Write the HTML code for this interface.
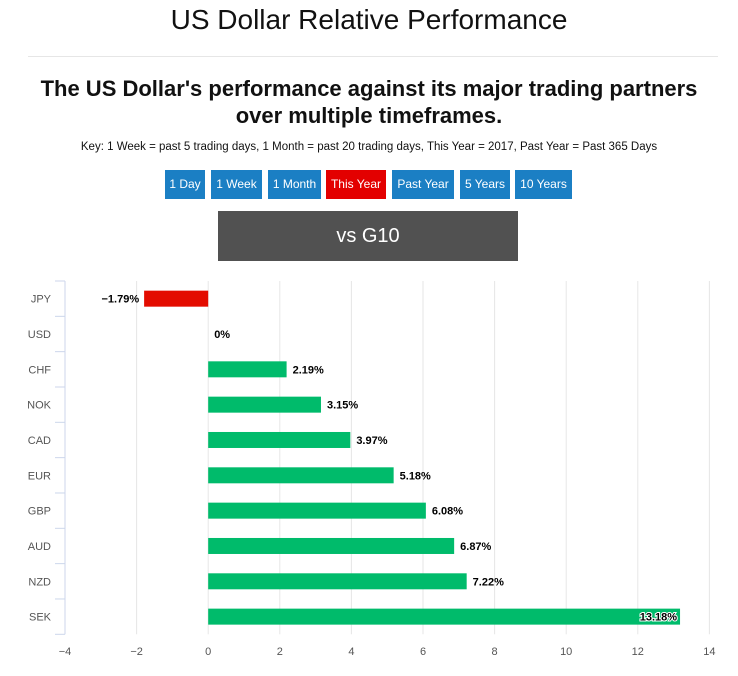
<!DOCTYPE html>
<html><head><meta charset="utf-8"><style>
body{margin:0;width:738px;height:676px;background:#fff;font-family:"Liberation Sans",sans-serif;position:relative;overflow:hidden}
.a{position:absolute}
.t{left:0;width:738px;text-align:center}
.btn{position:absolute;top:170px;height:29px;line-height:29px;color:#fff;font-size:12px;text-align:center;background:#1b7fc4}
</style></head><body>
<div class="a t" style="top:4px;font-size:28px;color:#111">US Dollar Relative Performance</div>
<div class="a" style="left:28px;width:690px;top:56px;border-top:1px solid #e6e6e6"></div>
<div class="a t" style="top:75px;font-size:22px;font-weight:bold;line-height:27px;color:#111">The US Dollar's performance against its major trading partners<br>over multiple timeframes.</div>
<div class="a t" style="top:141px;font-size:11.5px;color:#111">Key: 1 Week = past 5 trading days, 1 Month = past 20 trading days, This Year = 2017, Past Year = Past 365 Days</div>
<div class="btn" style="left:165px;width:40px">1 Day</div>
<div class="btn" style="left:211px;width:51px">1 Week</div>
<div class="btn" style="left:268px;width:53px">1 Month</div>
<div class="btn" style="left:326px;width:60px;background:#e30000">This Year</div>
<div class="btn" style="left:392px;width:62px">Past Year</div>
<div class="btn" style="left:460px;width:50px">5 Years</div>
<div class="btn" style="left:515px;width:57px">10 Years</div>
<div class="a" style="left:218px;top:211px;width:300px;height:50px;line-height:50px;background:#515151;color:#fff;font-size:20px;text-align:center">vs G10</div>
<svg class="a" style="left:0;top:0" width="738" height="676">
<g id="g"></g></svg>
<script>
const categories=["JPY","USD","CHF","NOK","CAD","EUR","GBP","AUD","NZD","SEK"];
const values=[-1.79,0,2.19,3.15,3.97,5.18,6.08,6.87,7.22,13.18];
const labels=["−1.79%","0%","2.19%","3.15%","3.97%","5.18%","6.08%","6.87%","7.22%","13.18%"];
const ticks=[-4,-2,0,2,4,6,8,10,12,14];
const g=document.getElementById('g'),NS='http://www.w3.org/2000/svg';
const x=v=>65+(v+4)*35.8;
const top0=281,step=35.33;
const y=i=>top0+i*step;
function mk(t,a){const e=document.createElementNS(NS,t);for(const k in a)e.setAttribute(k,a[k]);g.appendChild(e);return e;}
ticks.forEach(t=>{if(t>-4){const l=mk('line',{x1:x(t),x2:x(t),y1:top0,y2:top0+10*step,stroke:'#e6e6e6'});

}
const tx=mk('text',{x:x(t),y:655,'text-anchor':'middle','font-size':11,fill:'#555'});tx.textContent=(t<0?'−'+(-t):t);

});
const ax=mk('line',{x1:65,x2:65,y1:top0,y2:top0+10*step,stroke:'#ccd6eb'});


for(let i=0;i<=10;i++){const tk=mk('line',{x1:55,x2:65,y1:y(i),y2:y(i),stroke:'#ccd6eb'});

}
categories.forEach((c,i)=>{const cy=y(i)+step/2;
const cl=mk('text',{x:51,y:cy+4,'text-anchor':'end','font-size':11,fill:'#555'});cl.textContent=c;


const v=values[i];const x0=x(Math.min(0,v)),w=Math.abs(x(v)-x(0));
const r=mk('rect',{x:x0,y:cy-8,width:w,height:16,fill:v<0?'#e30c00':'#00bb6b'});


let lx,an;if(v<0){lx=x(v)-5;an='end';}else if(i==9){lx=x(v)-3;an='end';}else{lx=x(v)+6;an='start';}
const t=mk('text',{x:lx,y:cy+4,'text-anchor':an,'font-size':11,'font-weight':'bold',fill:'#000'});t.textContent=labels[i];
if(i==9){t.setAttribute('stroke','#fff');t.setAttribute('stroke-width','2');t.setAttribute('paint-order','stroke');}

});
</script>
</body></html>
